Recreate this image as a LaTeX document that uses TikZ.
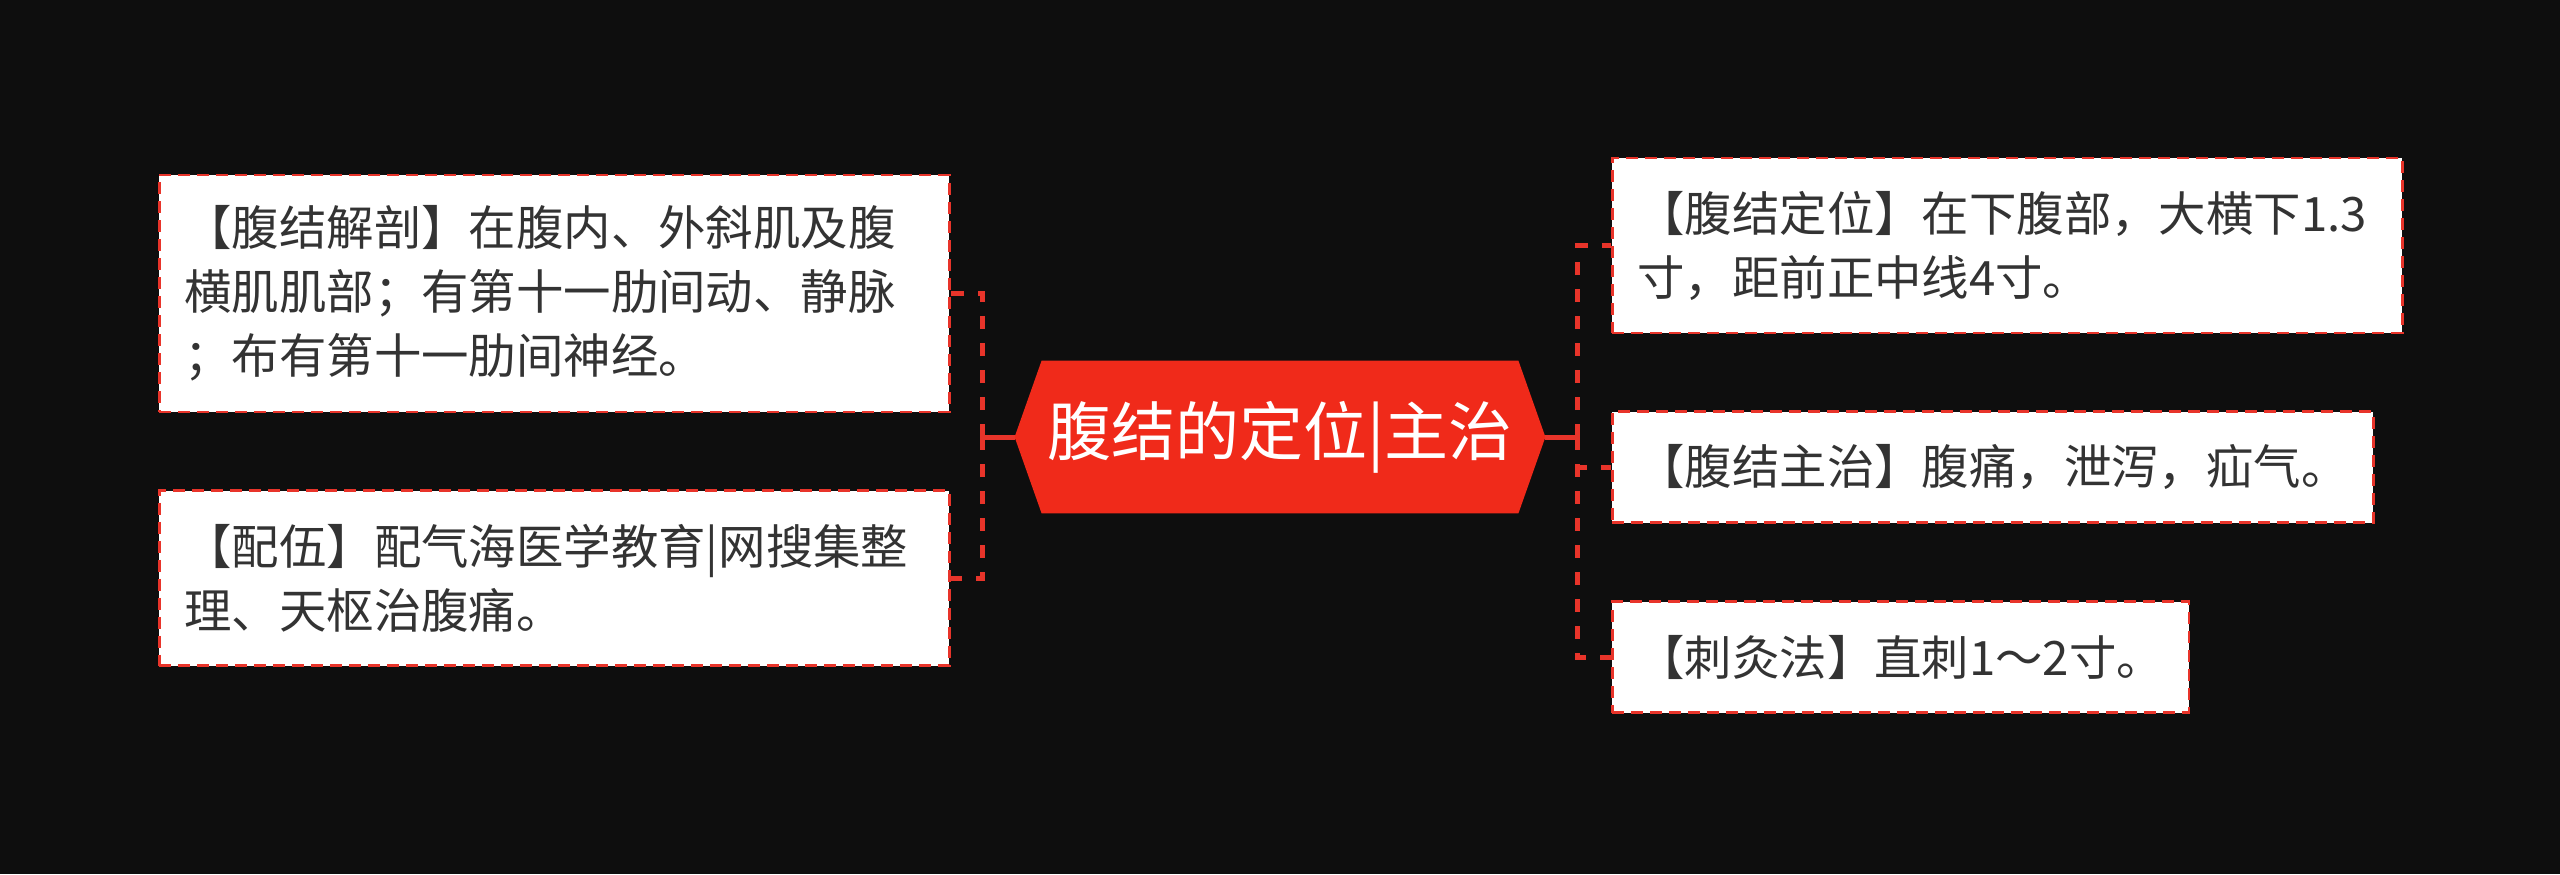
\documentclass[tikz,border=0pt]{standalone}
\usepackage{fontspec}
\setmainfont{Noto Sans CJK SC}
\usetikzlibrary{positioning,calc,backgrounds}
\definecolor{bgdark}{HTML}{0E0E0E}
\definecolor{mapred}{HTML}{F02A1A}
\definecolor{linered}{HTML}{E8342A}
\definecolor{inkgray}{HTML}{333333}
\tikzset{
	leaf/.style={rectangle, draw=linered, fill=white, line width=1.4pt, dash pattern=on 6pt off 3.5pt, text=inkgray, font={\fontsize{23.7pt}{32pt}\selectfont}, inner xsep=12.5pt, inner ysep=4pt, align=left}, % the dashed white boxes
	wide leaf/.style={leaf, text width=370pt},
	rootnode/.style={rectangle, minimum width=265pt, minimum height=76pt, inner sep=0pt, text=white, font={\fontsize{32pt}{38pt}\selectfont}},
	branch/.style={draw=linered, line width=2.5pt},
	twig/.style={draw=linered, line width=2.5pt, dash pattern=on 6.5pt off 7pt}
}
\begin{document}
\begin{tikzpicture}[x=0.5pt, y=-0.5pt, node distance=38pt]
	\node[rootnode] (root) at (1280,437) {腹结的定位|主治};
	% left side
	\node[wide leaf, minimum height=118.5pt, anchor=west] (anat) at (158,293.5) {【腹结解剖】在腹内、外斜肌及腹\\横肌肌部；有第十一肋间动、静脉\\；布有第十一肋间神经。};
	\node[wide leaf, minimum height=87.5pt] (pair) [below right=38pt and 0pt of anat.south west] {【配伍】配气海医学教育|网搜集整\\理、天枢治腹痛。};
	% right side
	\node[wide leaf, minimum height=87.5pt, anchor=west] (loc) at (1611,245.5) {【腹结定位】在下腹部，大横下1.3\\寸，距前正中线4寸。};
	\node[leaf, minimum height=55.5pt] (indic) [below right=38pt and 0pt of loc.south west] {【腹结主治】腹痛，泄泻，疝气。};
	\node[leaf, minimum height=55.5pt] (needle) [below right=38pt and 0pt of indic.south west] {【刺灸法】直刺1～2寸。};
	\coordinate (jl) at ($(root.west)+(-16pt,0)$);
	\coordinate (jr) at ($(root.east)+(16pt,0)$);
	\draw[branch] (root.west) -- (jl);
	\draw[branch] (root.east) -- (jr);
	\draw[twig] (jl) |- (anat.east);
	\draw[twig] (jl) |- (pair.east);
	\draw[twig] (jr) |- (loc.west);
	\draw[twig] (jr) |- (indic.west);
	\draw[twig] (jr) |- (needle.west);
	\begin{scope}[on background layer]
		\fill[bgdark] (0,0) rectangle (2560,874);
		\fill[mapred] (root.west) -- ([xshift=13.5pt]root.north west) -- ([xshift=-13.5pt]root.north east) -- (root.east) -- ([xshift=-13.5pt]root.south east) -- ([xshift=13.5pt]root.south west) -- cycle;
	\end{scope}
\end{tikzpicture}
\end{document}
